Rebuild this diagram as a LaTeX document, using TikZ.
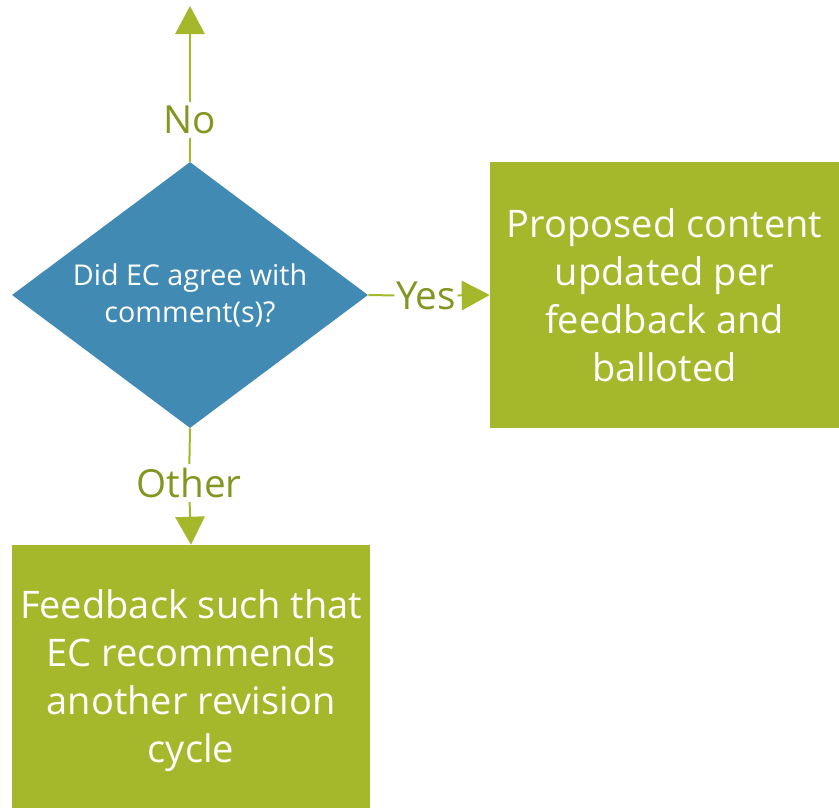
\documentclass[tikz,border=0pt]{standalone}
\usepackage{fontspec}
\setmainfont{Open Sans}
\usetikzlibrary{shapes.geometric,arrows.meta}
\definecolor{boxgreen}{HTML}{A5B72A}
\definecolor{lblgreen}{HTML}{839622}
\definecolor{diablue}{HTML}{418AB3}
\tikzset{
  decision/.style={diamond, fill=diablue, text=white, inner sep=0pt, minimum width=356*0.75pt, minimum height=266*0.75pt, shape aspect=1.338, align=center, font=\fontsize{21.5}{27.75}\selectfont},
  actbox/.style={rectangle, fill=boxgreen, text=white, inner sep=0pt, align=center, font=\fontsize{28.5}{36}\selectfont},
  lbl/.style={text=lblgreen, inner sep=3pt, font=\fontsize{29}{32}\selectfont},
  conn/.style={draw=boxgreen, line width=1.5pt},
  arr/.style={conn, -{Triangle[length=21pt,width=22pt]}}
}
\begin{document}
\begin{tikzpicture}[x=0.75pt,y=-0.75pt]
\useasboundingbox (0,0) rectangle (839,808);
\node[decision] (dia) at (190,295) {Did EC agree with\\comment(s)?};
\node[actbox, minimum width=349*0.75pt, minimum height=266*0.75pt] (prop) at (664.5,295) {Proposed content\\updated per\\feedback and\\balloted};
\node[actbox, minimum width=358*0.75pt, minimum height=263*0.75pt] (fb) at (191,676.5) {};
\node[actbox] (fbtext) at ([yshift=-3pt]fb.center) {Feedback such that\\EC recommends\\another revision\\cycle};
\node[lbl] (no) at (190,120) {No};
\node[lbl, inner sep=1pt] (yes) at (426,296) {Yes};
\node[lbl] (other) at (189,483) {Other};
\coordinate (top) at (190,6);
\draw[conn] (dia.north) -- (no);
\draw[arr] (no) -- (top);
\draw[conn] (dia.east) -- (yes);
\draw[arr] (yes) -- (prop.west);
\draw[conn] (dia.south) -- (other);
\draw[arr] (other) -- (fb.north);
\end{tikzpicture}
\end{document}
